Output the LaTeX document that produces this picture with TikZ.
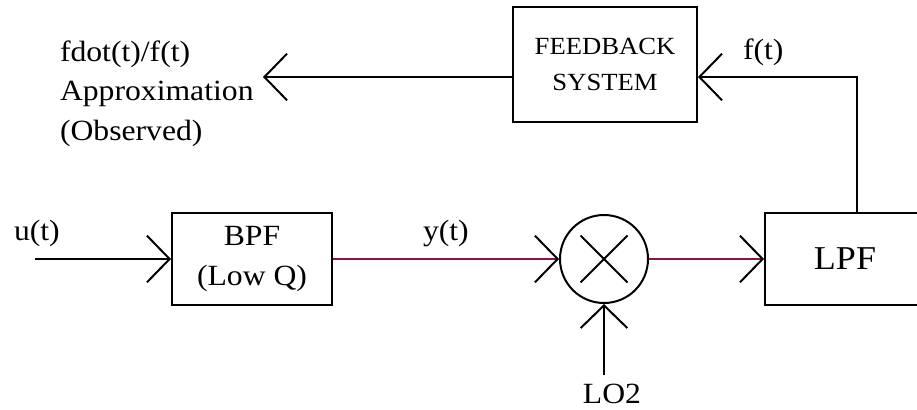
\documentclass[tikz,border=0pt]{standalone}
\usepackage{fontspec}
\setmainfont{Liberation Serif}[FakeStretch=1.08]
\usetikzlibrary{arrows.meta}
\definecolor{sigred}{RGB}{140,20,75}
\tikzset{every picture/.style={line width=1.5pt}}
\tikzset{
  blockbox/.style={draw, rectangle, align=center, inner sep=0pt},
  lbl/.style={inner sep=0pt, align=left, font=\fontsize{22}{29.6}\selectfont},
  sig/.style={draw, -{Straight Barb[length=17pt,width=35pt]}},
  redsig/.style={draw=sigred, -{Straight Barb[length=17pt,width=35pt,color=black]}}
}

\begin{document}
\begin{tikzpicture}[x=0.75pt,y=0.75pt,yscale=-1,xscale=1]
\useasboundingbox (0,0) rectangle (917,410);
\clip (0,0) rectangle (917,410);

%Shape: Rectangle [id:fb]
\node[blockbox, minimum width=138pt, minimum height=86pt, font=\fontsize{18.5}{27}\selectfont] (fb) at (605,64.5) {FEEDBACK\\SYSTEM};
%Shape: Rectangle [id:bpf]
\node[blockbox, minimum width=120pt, minimum height=69pt, font=\fontsize{22}{30}\selectfont] (bpf) at (252,259) {BPF\\(Low Q)};
%Shape: Circle [id:mix]
\node[draw, circle, minimum size=66pt, inner sep=0pt] (mix) at (604,259) {};
\draw ([shift={(-23.5,-23.5)}]mix.center) -- ([shift={(23.5,23.5)}]mix.center);
\draw ([shift={(-23.5,23.5)}]mix.center) -- ([shift={(23.5,-23.5)}]mix.center);
%Shape: Rectangle [id:lpf]
\node[blockbox, minimum width=120pt, minimum height=69pt, font=\fontsize{25}{30}\selectfont] (lpf) at (845,259) {LPF};

%Text
\node[lbl, anchor=base west] (obs) at (59,140) {fdot(t)/f(t)\\Approximation\\(Observed)};
\node[lbl, anchor=base west] (ulbl) at (13,240) {u(t)};
\node[lbl, anchor=base west] (ylbl) at (422,240) {y(t)};
\node[lbl, anchor=base west] (flbl) at (742,60) {f(t)};
\node[lbl, anchor=base] (lolbl) at (612,403) {LO2};

%Free ends
\coordinate (uin) at (35,259);
\coordinate (loin) at (604,375);
\coordinate (turn) at (857,77);
\coordinate (obsin) at (263,77);

%Straight Lines
\draw[sig] (uin) -- (bpf.west);
\draw[redsig] (bpf.east) -- (mix.west);
\draw[redsig] (mix.east) -- (lpf.west);
\draw[sig] (loin) -- (mix.south);
\draw[sig] (lpf.north -| turn) -- (turn) -- (fb.east |- turn);
\draw[sig] (fb.west |- obsin) -- (obsin);

\end{tikzpicture}
\end{document}
